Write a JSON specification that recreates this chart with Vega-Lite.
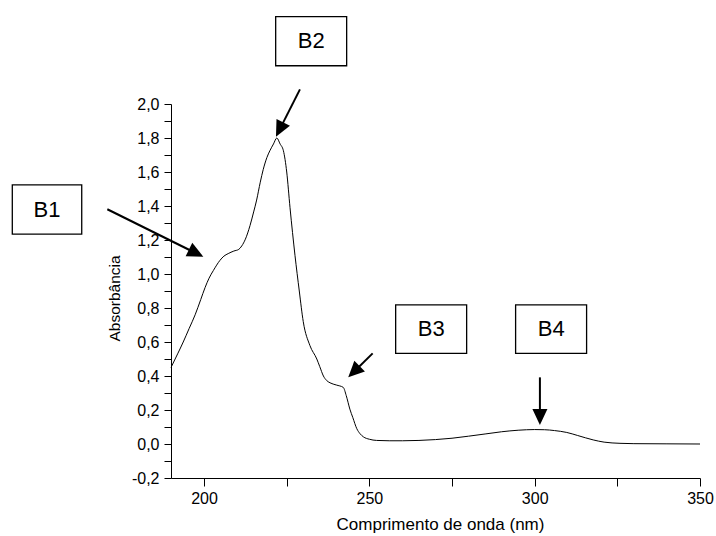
{
  "$schema": "https://vega.github.io/schema/vega-lite/v6.json",
  "width": 529,
  "height": 374,
  "autosize": {"type": "none"},
  "padding": {"left": 171, "top": 104, "right": 16, "bottom": 58},
  "background": "white",
  "config": {"view": {"stroke": null}, "font": "Liberation Sans", "axis": {"labelOverlap": false, "grid": false}},
  "datasets": {
    "spectrum": [
      {"x": 190, "y": 0.45},
      {"x": 192, "y": 0.53},
      {"x": 193.7, "y": 0.60},
      {"x": 195.5, "y": 0.68},
      {"x": 197.3, "y": 0.76},
      {"x": 199, "y": 0.85},
      {"x": 200.3, "y": 0.92},
      {"x": 201.5, "y": 0.975},
      {"x": 202.8, "y": 1.02},
      {"x": 204.8, "y": 1.08},
      {"x": 206, "y": 1.105},
      {"x": 207.3, "y": 1.12},
      {"x": 209, "y": 1.135},
      {"x": 210.5, "y": 1.145},
      {"x": 211.4, "y": 1.165},
      {"x": 212.5, "y": 1.205},
      {"x": 213.9, "y": 1.285},
      {"x": 215, "y": 1.365},
      {"x": 215.9, "y": 1.435},
      {"x": 217, "y": 1.54},
      {"x": 217.9, "y": 1.615},
      {"x": 219, "y": 1.685},
      {"x": 219.9, "y": 1.725},
      {"x": 221, "y": 1.765},
      {"x": 222, "y": 1.8},
      {"x": 223, "y": 1.765},
      {"x": 224, "y": 1.725},
      {"x": 225, "y": 1.6},
      {"x": 226, "y": 1.39},
      {"x": 227.5, "y": 1.11},
      {"x": 228.8, "y": 0.9},
      {"x": 230, "y": 0.72},
      {"x": 232, "y": 0.58},
      {"x": 234.1, "y": 0.5},
      {"x": 235, "y": 0.455},
      {"x": 236.1, "y": 0.4},
      {"x": 237, "y": 0.375},
      {"x": 238.1, "y": 0.36},
      {"x": 240, "y": 0.347},
      {"x": 242.1, "y": 0.333},
      {"x": 243, "y": 0.285},
      {"x": 244.1, "y": 0.205},
      {"x": 245, "y": 0.155},
      {"x": 246.2, "y": 0.09},
      {"x": 247.2, "y": 0.06},
      {"x": 248.2, "y": 0.042},
      {"x": 250, "y": 0.028},
      {"x": 252.2, "y": 0.021},
      {"x": 256, "y": 0.019},
      {"x": 260, "y": 0.019},
      {"x": 265, "y": 0.021},
      {"x": 270, "y": 0.026},
      {"x": 275, "y": 0.034},
      {"x": 280, "y": 0.046},
      {"x": 285, "y": 0.059},
      {"x": 290, "y": 0.072},
      {"x": 295, "y": 0.081},
      {"x": 300, "y": 0.085},
      {"x": 303, "y": 0.084},
      {"x": 306, "y": 0.079},
      {"x": 309.7, "y": 0.068},
      {"x": 313, "y": 0.05},
      {"x": 317.7, "y": 0.024},
      {"x": 321, "y": 0.011},
      {"x": 325.8, "y": 0.004},
      {"x": 330, "y": 0.002},
      {"x": 340, "y": 0.001},
      {"x": 350, "y": 0.0}
    ],
    "boxes": [
      {"label": "B1", "x": 142.0, "x2": 163.0, "y": 1.524, "y2": 1.234},
      {"label": "B2", "x": 221.66, "x2": 243.13, "y": 2.514, "y2": 2.225},
      {"label": "B3", "x": 257.95, "x2": 279.42, "y": 0.818, "y2": 0.533},
      {"label": "B4", "x": 294.23, "x2": 315.7, "y": 0.818, "y2": 0.533}
    ],
    "labels": [
      {"label": "B1", "x": 152.5, "y": 1.379},
      {"label": "B2", "x": 232.4, "y": 2.37},
      {"label": "B3", "x": 268.7, "y": 0.676},
      {"label": "B4", "x": 305.0, "y": 0.676}
    ],
    "arrows": [
      {"label": "B1", "x": 170.74, "y": 1.381, "x2": 197.59, "y2": 1.122},
      {"label": "B2", "x": 229.0, "y": 2.086, "x2": 222.84, "y2": 1.849},
      {"label": "B3", "x": 250.99, "y": 0.533, "x2": 245.34, "y2": 0.425},
      {"label": "B4", "x": 301.58, "y": 0.392, "x2": 301.58, "y2": 0.159}
    ],
    "heads": [
      {"label": "B1", "x": 199.77, "y": 1.102, "angle": 296.3},
      {"label": "B2", "x": 221.75, "y": 1.808, "angle": 26.9},
      {"label": "B3", "x": 243.61, "y": 0.392, "angle": 45.4},
      {"label": "B4", "x": 301.58, "y": 0.112, "angle": 0}
    ]
  },
  "encoding": {
    "x": {
      "field": "x", "type": "quantitative",
      "scale": {"domain": [190, 350], "nice": false, "zero": false},
      "axis": {
        "values": [200, 225, 250, 275, 300, 325, 350],
        "title": "Comprimento de onda (nm)",
        "grid": false,
        "domainColor": "black", "domainWidth": 1,
        "tickColor": "black", "tickWidth": 1, "tickSize": 8,
        "labelExpr": "datum.value % 50 == 0 ? datum.label : ''",
        "labelColor": "black", "labelFontSize": 16, "labelFont": "Liberation Sans",
        "labelPadding": 4, "labelFlush": false, "labelOverlap": false,
        "titleColor": "black", "titleFontSize": 17, "titleFont": "Liberation Sans",
        "titleFontWeight": "normal", "titlePadding": 10, "titleX": 269,
        "encoding": {"ticks": {"update": {"y2": {"signal": "datum.value % 50 == 0 ? 8 : 4"}}}}
      }
    },
    "y": {
      "field": "y", "type": "quantitative",
      "scale": {"domain": [-0.2, 2.0], "nice": false, "zero": false},
      "axis": {
        "values": [-0.2, -0.1, 0, 0.1, 0.2, 0.3, 0.4, 0.5, 0.6, 0.7, 0.8, 0.9, 1.0, 1.1, 1.2, 1.3, 1.4, 1.5, 1.6, 1.7, 1.8, 1.9, 2.0],
        "title": "Absorbância",
        "grid": false,
        "domainColor": "black", "domainWidth": 1,
        "tickColor": "black", "tickWidth": 1, "tickSize": 7,
        "labelExpr": "abs(round(datum.value * 10)) % 2 == 0 ? replace(replace(format(datum.value, '.1f'), '.', ','), '\u2212', '-') : ''",
        "labelColor": "black", "labelFontSize": 16, "labelFont": "Liberation Sans",
        "labelPadding": 5, "labelFlush": false, "labelOverlap": false,
        "titleColor": "black", "titleFontSize": 15.5, "titleFont": "Liberation Sans",
        "titleFontWeight": "normal", "titlePadding": 9, "titleY": 194,
        "encoding": {"ticks": {"update": {"x2": {"signal": "abs(round(datum.value * 10)) % 2 == 1 ? -4 : -7"}}}}
      }
    }
  },
  "layer": [
    {
      "data": {"name": "spectrum"},
      "mark": {"type": "line", "color": "black", "strokeWidth": 1, "interpolate": "monotone"}
    },
    {
      "data": {"name": "boxes"},
      "mark": {"type": "rect", "fill": "white", "stroke": "black", "strokeWidth": 1.3},
      "encoding": {"x2": {"field": "x2"}, "y2": {"field": "y2"}}
    },
    {
      "data": {"name": "labels"},
      "mark": {"type": "text", "font": "Liberation Sans", "fontSize": 22, "color": "black", "align": "center", "baseline": "middle"},
      "encoding": {"text": {"field": "label"}}
    },
    {
      "data": {"name": "arrows"},
      "mark": {"type": "rule", "color": "black", "strokeWidth": 2},
      "encoding": {"x2": {"field": "x2"}, "y2": {"field": "y2"}}
    },
    {
      "data": {"name": "heads"},
      "mark": {"type": "point", "shape": "M0,0L-0.47,-1L0.47,-1Z", "filled": true, "color": "black", "opacity": 1, "size": 1024, "strokeWidth": 0},
      "encoding": {"angle": {"field": "angle", "type": "quantitative", "scale": null}}
    }
  ]
}
